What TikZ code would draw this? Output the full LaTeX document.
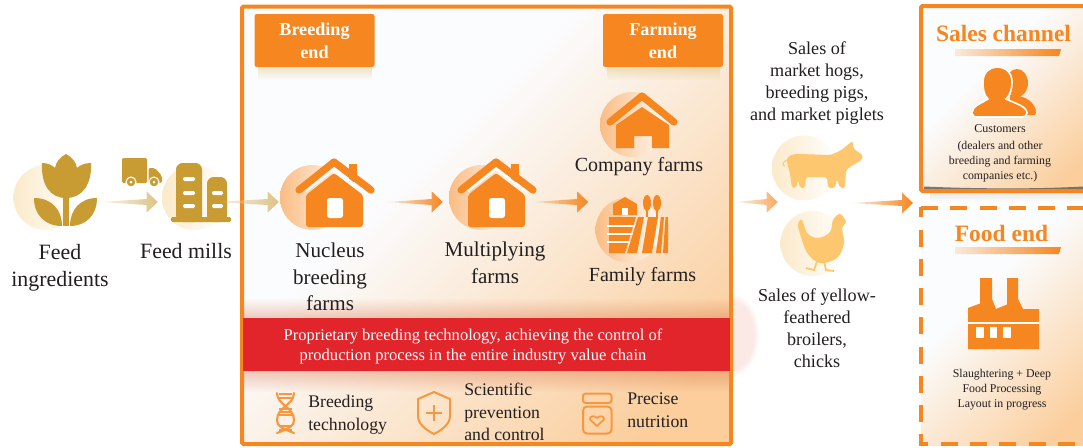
\documentclass[tikz,border=0pt]{standalone}
\usepackage{fontspec}
\setmainfont{Liberation Serif}
\usetikzlibrary{calc,fadings}
\definecolor{org}{HTML}{F6861F}
\definecolor{gold}{HTML}{C99B33}
\definecolor{pale}{HTML}{FDC76F}
\definecolor{ink}{HTML}{231F20}
\definecolor{redband}{HTML}{E2242B}
\definecolor{peach}{HTML}{FBCE9C}
\definecolor{F9}{HTML}{FBFCFE}
\definecolor{cream}{HTML}{FBEACA}
\pgfdeclareverticalshading{panelsh}{100bp}{color(0bp)=(peach); color(22bp)=(peach); color(60bp)=(F9); color(100bp)=(F9)}
\tikzfading[name=fromleft,left color=transparent!85,right color=transparent!0]
\tikzfading[name=fromtop,top color=transparent!100,bottom color=transparent!0]
\tikzfading[name=frombottom,top color=transparent!0,bottom color=transparent!100]
\newcommand{\fs}[2]{\fontsize{#1}{#2}\selectfont}
\tikzset{
  txt/.style={text=ink,align=center,inner sep=0pt},
  big/.style={txt,font=\fs{16.4}{20}},
  mid/.style={txt,font=\fs{15.8}{20}},
  sale/.style={txt,font=\fs{13.6}{16.6}},
  low/.style={txt,font=\fs{13.3}{17},align=left},
  tiny/.style={txt,font=\fs{8.9}{11.1}},
  panel/.style={shading=panelsh,shading angle=45},
  golddisc/.style={circle,inner sep=0pt,minimum size=48.75pt,left color=cream,right color=white},
  orgdisc/.style={circle,inner sep=0pt,minimum size=48.75pt,left color=org!55!white,right color=org!5!white},
  palediscs/.style={circle,inner sep=0pt,minimum size=48.75pt,left color=cream,right color=white},
  tag/.style={fill=org,rounded corners=1.5pt,minimum width=90pt,minimum height=39.5pt,inner sep=0pt,align=center,text=white,font=\fs{13.6}{17}\bfseries},
  heading/.style={text=org,inner sep=0pt,font=\fs{17.6}{20}\bfseries},
  iconline/.style={draw=org!85!white,line width=1.5pt,line join=round,line cap=round}
}
% tapered arrow: from, to, colour
\newcommand{\taper}[3]{%
  \coordinate (tA) at #1; \coordinate (tB) at #2;
  \fill[#3,path fading=fromleft,fit fading=true] (tA)
    -- ($(tB)+(-11,-3)$) -- ($(tB)+(-11,-10.5)$) -- (tB) -- ($(tB)+(-11,10.5)$) -- ($(tB)+(-11,3)$) -- cycle;
}
% house with chimney; origin at the ridge
\newcommand{\houseicon}[2]{%
  \begin{scope}[shift={(#1,#2)}]
    \fill[org] (15,6) rectangle (23,24);
    \draw[org,line width=5.4pt,line cap=round,line join=round,fill=none] (-35,32) -- (0,4) -- (37,32);
    \draw[white,line width=1.5pt] (-28,33) -- (0,11) -- (30,33);
    \fill[org,rounded corners=2pt] (-28,37) -- (0,15) -- (29,37) -- (29,69) -- (-28,69) -- cycle;
    \fill[white,rounded corners=2pt] (-7,60) -- (-7,40) -- (9,40) -- (9,60) -- cycle;
  \end{scope}}
\begin{document}
\begin{tikzpicture}[x=0.75pt,y=-0.75pt]
\clip (0,0) rectangle (1083,447);
\fill[white] (0,0) rectangle (1083,447);

% ---------- glow beside the band, then panels
\fill[brown!60!red,opacity=.12,path fading=circle with fuzzy edge 20 percent,fit fading=true] (731,335) ellipse (28 and 42);
\shade[panel] (242,6.5) rectangle (731,444);
\shade[panel] (921,6) rectangle (1090,191);
\shade[panel] (921,208) rectangle (1090,445);

% shadows
\fill[brown!70!red,opacity=.3,path fading=fromtop,fit fading=true] (244,298) rectangle (729,318);
\fill[brown!70!red,opacity=.3,path fading=frombottom,fit fading=true] (244,371) rectangle (729,392);
\fill[olive!60!orange,opacity=.22,path fading=frombottom,fit fading=true] (258,67) rectangle (372,80);
\fill[olive!60!orange,opacity=.22,path fading=frombottom,fit fading=true] (607,67) rectangle (720,80);
\fill[black!65!white,opacity=.8] (924,186.5) .. controls (980,189) and (1040,189) .. (1083,186.5) -- (1083,191) -- (924,191) -- cycle;
\fill[black!40!white,opacity=.2,path fading=frombottom,fit fading=true] (930,193) rectangle (1083,203);

% frames
\draw[org,line width=3pt,rounded corners=1pt] (242,6.5) rectangle (731,444);
\draw[org,line width=3pt,rounded corners=1pt] (921,6) rectangle (1095,191);
\draw[org,line width=3pt,dash pattern=on 12.75pt off 9.2pt] (921,208) -- (1095,208);
\draw[org,line width=3pt,dash pattern=on 12.75pt off 9.2pt,dash phase=5pt] (921,207) -- (921,444) -- (1095,444);

% ---------- tags
\node[tag] (breedtag) at (314.5,40.5) {Breeding\\end};
\node[tag] (farmtag) at (663,40.5) {Farming\\end};

% ---------- discs
\node[golddisc] (ingdisc) at (46,197.5) {};
\node[golddisc] (milldisc) at (194.5,197.5) {};
\node[orgdisc] (nucdisc) at (312.5,197.5) {};
\node[orgdisc] (muldisc) at (481.5,197.5) {};
\node[orgdisc] (comdisc) at (632.5,124.5) {};
\node[orgdisc] (famdisc) at (628,230) {};
\node[palediscs] (pigdisc) at (804.5,168) {};
\node[palediscs] (chickdisc) at (813,243.5) {};

% ---------- tulip
\fill[gold] (66,198) .. controls (50,198) and (41,185) .. (42,163) .. controls (48,163) and (52,165) .. (55,168) .. controls (56,162) and (60,157) .. (66,154) .. controls (72,157) and (76,162) .. (77,168) .. controls (80,165) and (85,163) .. (91,163) .. controls (92,185) and (82,198) .. (66,198) -- cycle;
\fill[gold] (63,196) rectangle (69,226);
\fill[gold] (34,198) .. controls (34,215) and (45,226) .. (62,226) .. controls (62,210) and (52,198) .. (34,198) -- cycle;
\fill[gold] (97,198) .. controls (97,215) and (86,226) .. (70,226) .. controls (70,210) and (80,198) .. (97,198) -- cycle;

% ---------- truck
\fill[gold,rounded corners=1pt] (122,158) rectangle (147,183);
\fill[gold,rounded corners=1.5pt] (148.5,168) -- (155,168) -- (162,176) -- (162,183) -- (148.5,183) -- cycle;
\fill[gold,draw=white,line width=.8pt] (131,182) circle (5);
\fill[gold,draw=white,line width=.8pt] (154,182) circle (5);
\fill[white] (131,182) circle (1.5);
\fill[white] (154,182) circle (1.5);

% ---------- mills
\fill[gold,rounded corners=5pt] (176,222) -- (176,163) -- (202,163) -- (202,222) -- cycle;
\fill[gold,rounded corners=5pt] (207,222) -- (207,177) -- (227,177) -- (227,222) -- cycle;
\fill[gold,rounded corners=1pt] (171,217) rectangle (231,222);
\foreach \wy in {179,193,206}{\fill[white,rounded corners=1pt] (183,\wy-2) rectangle (195,\wy+2);}
\foreach \wy in {193,206}{\fill[white,rounded corners=1pt] (212,\wy-2) rectangle (223,\wy+2);}

% ---------- houses
\houseicon{334}{158}
\houseicon{496}{158}

% company farm
\draw[org,line width=5.4pt,line cap=round,line join=round] (610,122) -- (642,96) -- (674,122);
\fill[org] (616,125) -- (642,107) -- (669,125) -- (669,148) -- (652,148) -- (652,136) -- (634,136) -- (634,148) -- (616,148) -- cycle;

% family farm
\fill[org] (613,215) -- (613,204) -- (625,197) -- (637,204) -- (637,215) -- cycle;
\fill[white] (622,215) -- (622,208) -- (628,208) -- (628,215) -- cycle;
\fill[org] (609,217) -- (636,217) -- (625,253) -- (609,253) -- cycle;
\foreach \sy in {225,233,241}{\fill[white] (607,\sy) rectangle (640,\sy+1.8);}
\fill[org] (638,217) -- (644,217) -- (637,253) -- (627,253) -- cycle;
\fill[org] (648,217) -- (658,217) -- (652,253) -- (642,253) -- cycle;
\fill[org] (661,217) -- (664,217) -- (661,253) -- (656,253) -- cycle;
\fill[org] (665.5,217) -- (668,217) -- (668,253) -- (663,253) -- cycle;
\fill[org] (647,203) ellipse (4 and 8);
\fill[org] (657,203) ellipse (4 and 8);
\fill[org] (646.2,205) rectangle (647.8,217);
\fill[org] (656.2,205) rectangle (657.8,217);

% pig
\fill[pale,rounded corners=1.5pt] (787,162) .. controls (787,156) and (792,154) .. (800,154) -- (830,155) .. controls (836,153) and (842,150) .. (846,146) -- (853,141) -- (853,148) -- (858,152) -- (863,155) -- (862,160) -- (853,165) -- (846,170) -- (845,188) -- (840,188) -- (837,179) -- (835,188) -- (828,188) -- (827,177) -- (806,177) -- (805,188) -- (800,188) -- (798,180) -- (796,188) -- (792,188) -- (790,174) -- cycle;
\draw[pale,line width=.8pt] (787,160) .. controls (782,162) and (782,166) .. (785,166);

% chicken
\fill[pale] plot[smooth cycle,tension=.6] coordinates {(798,225) (802,220) (807,233) (818,238) (830,232) (833,220) (840,214) (846,222) (842,228) (844,243) (837,258) (820,263) (808,254) (802,240)};
\draw[pale,line width=1.3pt] (817,261) -- (814,270) -- (806,268);
\draw[pale,line width=1.3pt] (824,261) -- (826,270) -- (834,271);

% people
\fill[org] (1017,83) ellipse (11 and 14);
\fill[org] (1010,95) .. controls (1026,95) and (1036,103) .. (1036,113) .. controls (1036,115) and (1034,115) .. (1032,115) -- (1010,115) -- cycle;
\fill[org,draw=white,line width=1.2pt] (972,113) .. controls (972,106) and (982,103) .. (988,99) .. controls (984,95) and (983,90) .. (983,82) .. controls (983,72) and (990,67) .. (997,67) .. controls (1005,67) and (1012,72) .. (1012,82) .. controls (1012,90) and (1010,95) .. (1006,99) .. controls (1014,103) and (1027,106) .. (1027,113) .. controls (1027,116) and (1024,117) .. (1022,117) -- (977,117) .. controls (974,117) and (972,116) .. (972,113) -- cycle;

% factory
\fill[org] (968,349) -- (968,308) -- (980,303.5) -- (980,278) -- (992,278) -- (992,299) -- (996,309) -- (1007,304.5) -- (1007,278) -- (1018,278) -- (1018,299) -- (1023,309) -- (1039,309) -- (1039,349) -- cycle;
\fill[white] (968,321.5) rectangle (1039,323.5);
\foreach \fx in {976,989.5,1003}{\fill[white] (\fx,327) rectangle (\fx+7.5,338);}

% underlines
\fill[org,path fading=fromleft,fit fading=true] (955,49) -- (1061,49) -- (1059,56) -- (955,56) -- cycle;
\fill[org,path fading=fromleft,fit fading=true] (955,247) -- (1061,247) -- (1059,254) -- (955,254) -- cycle;

% ---------- red band
\fill[redband] (243,318) rectangle (730,371);

% ---------- bottom icons
% dna
\draw[iconline,line width=1.6pt] (277,393) .. controls (277,405) and (294,407) .. (294,420) .. controls (294,426) and (290,428) .. (277,433);
\draw[iconline,line width=1.6pt] (294,393) .. controls (294,405) and (277,407) .. (277,420) .. controls (277,426) and (281,428) .. (294,433);
\foreach \dy in {394,398,409,412,415,426,430}{\draw[org!85!white,line width=1pt] (279,\dy) -- (292,\dy);}
% shield
\draw[iconline] (434,392) -- (450,399) -- (450,416) .. controls (450,424) and (442,430) .. (434,434) .. controls (426,430) and (418,424) .. (418,416) -- (418,399) -- cycle;
\draw[org!85!white,line width=2.2pt] (426,413) -- (442,413);
\draw[org!85!white,line width=2.2pt] (434,405) -- (434,421);
% jar
\draw[iconline,rounded corners=2pt] (583,393.5) rectangle (611.5,403);
\draw[iconline,rounded corners=3pt] (583,406.5) rectangle (611.5,433.5);
\draw[iconline,line width=1.3pt] (597,426) -- (590,419.5) .. controls (589,416) and (595,415) .. (597,418) .. controls (599,415) and (605,416) .. (604,419.5) -- cycle;

% ---------- arrows
\taper{($(ingdisc.east)+(22,4.5)$)}{($(milldisc.west)+(-4,4.5)$)}{gold!60!white}
\taper{($(milldisc.east)+(-12,4.5)$)}{($(nucdisc.west)+(-1,4.5)$)}{gold!60!white}
\taper{($(nucdisc.east)+(43,4.5)$)}{($(muldisc.west)+(-6,4.5)$)}{org}
\taper{($(muldisc.east)+(19,4.5)$)}{($(famdisc.west)+(-7,-28)$)}{org}
\taper{($(famdisc.east)+(75,-28)$)}{($(pigdisc.west)+(6,34)$)}{org!70!white}
\taper{($(chickdisc.east)+(7,-40.5)$)}{(913,203)}{org}

% ---------- texts
\node[big] (tingr) at (60,267.5) {Feed\\ingredients};
\node[big] (tmill) at (186,251) {Feed mills};
\node[mid] (tnuc) at (330,277) {Nucleus\\breeding\\farms};
\node[mid] (tmul) at (495,263) {Multiplying\\farms};
\node[txt,font=\fs{15}{20}] (tcom) at (639,167) {Company farms};
\node[txt,font=\fs{15}{20}] (tfam) at (642.5,277) {Family farms};
\node[sale] (tsale) at (817,83) {Sales of\\market hogs,\\breeding pigs,\\and market piglets};
\node[sale] (tyel) at (817,328) {Sales of yellow-\\feathered\\broilers,\\chicks};
\node[heading] (hsales) at (1003.5,33) {Sales channel};
\node[heading] (hfood) at (1001.5,233) {Food end};
\node[txt,font=\fs{9}{12}] (tcust) at (1000,129) {Customers};
\node[tiny] (tdeal) at (1000,161.5) {(dealers and other\\breeding and farming\\companies etc.)};
\node[tiny] (tslau) at (1002,389.5) {Slaughtering + Deep\\Food Processing\\Layout in progress};
\node[txt,text=white,font=\fs{12.4}{15}] (tband) at (473,346) {Proprietary breeding technology, achieving the control of\\production process in the entire industry value chain};
\node[low,anchor=west] (tbt) at (308,414.5) {Breeding\\technology};
\node[low,anchor=west] (tsc) at (464,412) {Scientific\\prevention\\and control};
\node[low,anchor=west] (tpn) at (627,410) {Precise\\nutrition};
\end{tikzpicture}
\end{document}
